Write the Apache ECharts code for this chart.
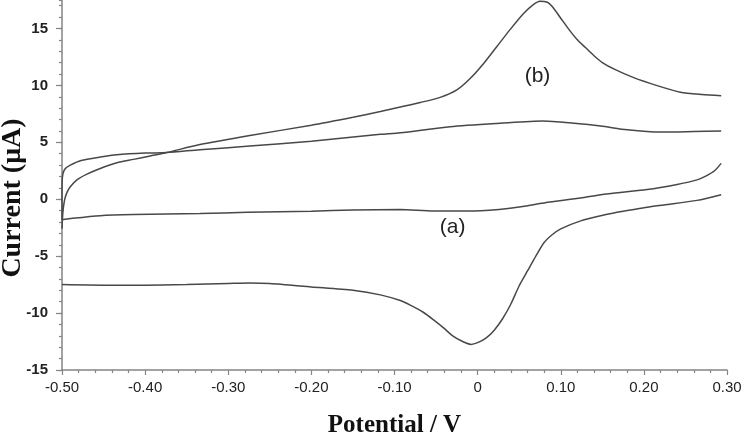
<!DOCTYPE html>
<html>
<head>
<meta charset="utf-8">
<script src="https://cdn.jsdelivr.net/npm/echarts@6.0.0/dist/echarts.min.js"></script>
<style>
  html, body { margin: 0; padding: 0; background: #fff; }
  #main { width: 742px; height: 434px; }
</style>
</head>
<body>
<div id="main"></div>
<script>
// tick labels
var xTickLabels = ["-0.50", "-0.40", "-0.30", "-0.20", "-0.10", "0", "0.10", "0.20", "0.30"];
var yTickLabels = ["-15", "-10", "-5", "0", "5", "10", "15"];

// curve (b): forward (anodic) scan, potential V / current uA
var bForwardE = [-0.500, -0.499, -0.497, -0.494, -0.490, -0.482, -0.470, -0.454, -0.434, -0.414,
  -0.394, -0.374, -0.334, -0.274, -0.200, -0.150, -0.117, -0.093, -0.069, -0.045,
  -0.025, -0.009, 0.007, 0.023, 0.039, 0.055, 0.067, 0.075, 0.084, 0.090,
  0.100, 0.110, 0.120, 0.130, 0.140, 0.150, 0.165, 0.187, 0.215, 0.244, 0.270, 0.293];
var bForwardI = [-2.6, -1.2, -0.1, 0.6, 1.1, 1.7, 2.2, 2.7, 3.2, 3.5,
  3.8, 4.1, 4.8, 5.6, 6.5, 7.2, 7.7, 8.1, 8.5, 8.95,
  9.6, 10.6, 11.9, 13.4, 14.9, 16.3, 17.1, 17.4, 17.3, 16.9,
  15.9, 14.9, 14.0, 13.3, 12.6, 12.0, 11.4, 10.7, 10.0, 9.4, 9.2, 9.1];

// curve (b): reverse (cathodic) scan
var bReverseE = [0.293, 0.264, 0.224, 0.204, 0.184, 0.164, 0.148, 0.124, 0.100, 0.090,
  0.080, 0.070, 0.060, 0.050, 0.040, 0.030, 0.020, 0.010, 0.000, -0.008,
  -0.018, -0.030, -0.041, -0.053, -0.065, -0.081, -0.093, -0.117, -0.150, -0.200,
  -0.250, -0.274, -0.300, -0.350, -0.400, -0.450, -0.500];
var bReverseI = [0.4, -0.1, -0.5, -0.7, -0.95, -1.2, -1.45, -1.9, -2.6, -3.1,
  -3.8, -5.0, -6.3, -7.6, -9.2, -10.5, -11.5, -12.2, -12.6, -12.75,
  -12.5, -12.0, -11.3, -10.6, -9.95, -9.3, -8.9, -8.4, -8.0, -7.7,
  -7.4, -7.35, -7.4, -7.5, -7.55, -7.55, -7.5];

// curve (a): forward scan
var aForwardE = [-0.500, -0.500, -0.499, -0.496, -0.490, -0.477, -0.454, -0.434, -0.400, -0.374,
  -0.334, -0.274, -0.200, -0.117, -0.093, -0.033, 0.027, 0.079, 0.116, 0.148,
  0.180, 0.220, 0.260, 0.293];
var aForwardI = [-1.8, 1.0, 2.2, 2.7, 3.0, 3.4, 3.7, 3.9, 4.05, 4.1,
  4.35, 4.67, 5.1, 5.7, 5.84, 6.37, 6.67, 6.87, 6.67, 6.43,
  6.1, 5.9, 5.95, 6.0];

// curve (a): reverse scan
var aReverseE = [0.293, 0.285, 0.275, 0.264, 0.240, 0.204, 0.148, 0.124, 0.087, 0.039,
  -0.005, -0.053, -0.093, -0.150, -0.200, -0.277, -0.334, -0.414, -0.454, -0.490, -0.500];
var aReverseI = [3.15, 2.5, 2.05, 1.7, 1.3, 0.85, 0.4, 0.1, -0.25, -0.8,
  -1.04, -1.04, -0.9, -0.95, -1.05, -1.15, -1.25, -1.35, -1.45, -1.7, -1.8];

function zip(e, i) {
  return e.map(function (v, k) { return [v, i[k]]; });
}

var lineColor = "#484848";
var axisColor = "#858585";

function branch(name, e, i, extra) {
  var s = {
    name: name,
    type: "line",
    data: zip(e, i),
    showSymbol: false,
    smooth: 0.25,
    lineStyle: { color: lineColor, width: 1.5 },
    itemStyle: { color: lineColor },
  };
  if (extra) s.markPoint = extra;
  return s;
}

function labelMark(text, coord) {
  return {
    symbol: "rect",
    symbolSize: 1,
    itemStyle: { color: "rgba(0,0,0,0)" },
    label: {
      show: true,
      position: "inside",
      formatter: text,
      color: "#222",
      fontSize: 21,
      fontFamily: "Liberation Sans, Arial, sans-serif",
    },
    data: [{ coord: coord }],
  };
}

var chart = echarts.init(document.getElementById("main"));

var option = {
  animation: false,
  backgroundColor: "#fff",
  grid: { left: 62, right: 15, top: 0, bottom: 64, containLabel: false, outerBoundsMode: "none" },
  xAxis: {
    type: "value",
    min: -0.5,
    max: 0.3,
    interval: 0.1,
    name: "Potential / V",
    nameLocation: "middle",
    nameGap: 43,
    nameMoveOverlap: false,
    nameTextStyle: {
      fontFamily: "Liberation Serif, Times New Roman, serif",
      fontWeight: "bold",
      fontSize: 25,
      color: "#111",
    },
    axisLine: { show: true, onZero: false, lineStyle: { color: axisColor, width: 1.5 } },
    axisTick: { show: true, length: 5, lineStyle: { color: axisColor, width: 1.2 } },
    minorTick: { show: true, splitNumber: 5, length: 3, lineStyle: { color: axisColor, width: 1.2 } },
    axisLabel: {
      margin: 10,
      fontSize: 15,
      color: "#222",
      fontFamily: "Liberation Sans, Arial, sans-serif",
      formatter: function (v, idx) { return xTickLabels[idx] || ""; },
    },
    splitLine: { show: false },
  },
  yAxis: [
    {
      type: "value",
      min: -15,
      max: 17.5,
      interval: 5,
      name: "Current (\u03bcA)",
      nameLocation: "middle",
      nameGap: 35,
      nameMoveOverlap: false,
      nameTextStyle: {
        fontFamily: "Liberation Serif, Times New Roman, serif",
        fontWeight: "bold",
        fontSize: 28,
        color: "#111",
        padding: [0, 26, 0, 0],
      },
      axisLine: { show: true, onZero: false, lineStyle: { color: axisColor, width: 1.5 } },
      axisTick: { show: true, length: 6, lineStyle: { color: axisColor, width: 1.2 } },
      axisLabel: {
        margin: 14,
        fontSize: 15,
        fontWeight: "bold",
        color: "#222",
        fontFamily: "Liberation Sans, Arial, sans-serif",
        showMaxLabel: false,
        formatter: function (v, idx) { return yTickLabels[idx] || ""; },
      },
      splitLine: { show: false },
    },
    {
      // unit minor ticks
      type: "value",
      min: -15,
      max: 17.5,
      interval: 1,
      position: "left",
      axisLine: { show: false, onZero: false },
      axisTick: { show: true, length: 3, lineStyle: { color: axisColor, width: 1.2 } },
      axisLabel: { show: false },
      splitLine: { show: false },
    },
  ],
  series: [
    branch("b-forward", bForwardE, bForwardI, labelMark("(b)", [0.072, 10.8])),
    branch("b-reverse", bReverseE, bReverseI),
    branch("a-forward", aForwardE, aForwardI),
    branch("a-reverse", aReverseE, aReverseI, labelMark("(a)", [-0.03, -2.5])),
  ],
};

chart.setOption(option);
</script>
</body>
</html>
